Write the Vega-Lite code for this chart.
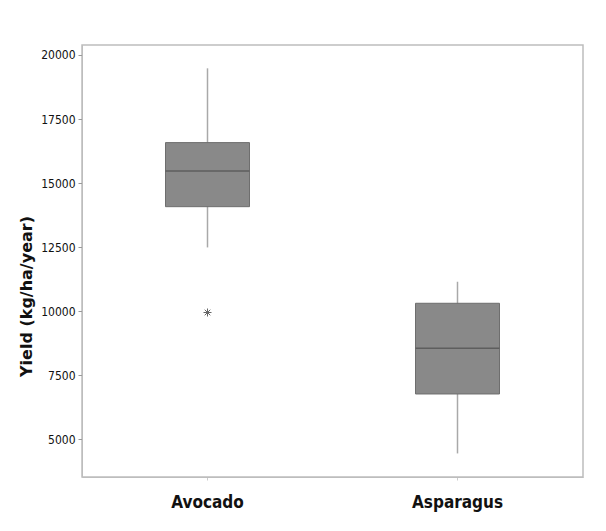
{
  "$schema": "https://vega.github.io/schema/vega-lite/v6.json",
  "width": 501,
  "height": 432,
  "autosize": {"type": "none"},
  "padding": {"left": 82, "top": 45, "right": 23, "bottom": 54},
  "background": "white",
  "config": {
    "view": {"stroke": "#bdbdbd", "strokeWidth": 1.5},
    "axis": {"grid": false}
  },
  "datasets": {
    "box": [
      {"crop": "Avocado", "lo": 12490, "q1": 14080, "med": 15470, "q3": 16580, "hi": 19480},
      {"crop": "Asparagus", "lo": 4450, "q1": 6770, "med": 8550, "q3": 10310, "hi": 11150}
    ],
    "outliers": [
      {"crop": "Avocado", "yield": 9950}
    ]
  },
  "encoding": {
    "x": {
      "field": "crop",
      "type": "nominal",
      "sort": ["Avocado", "Asparagus"],
      "scale": {"paddingInner": 0.664, "paddingOuter": 0.334},
      "axis": {
        "title": null,
        "labelAngle": 0,
        "labelFont": "Liberation Sans Narrow, DejaVu Sans Condensed, Roboto Condensed, Roboto, sans-serif",
        "labelFontWeight": "bold",
        "labelFontSize": 17,
        "labelColor": "#111111",
        "labelPadding": 14,
        "tickColor": "#cccccc",
        "tickSize": 3,
        "domainColor": "#bdbdbd"
      }
    }
  },
  "layer": [
    {
      "data": {"name": "box"},
      "mark": {"type": "rule", "color": "#a9a9a9", "strokeWidth": 1.5},
      "encoding": {
        "y": {
          "field": "lo",
          "type": "quantitative",
          "scale": {"domain": [3530, 20390], "nice": false, "zero": false},
          "axis": {
            "title": "Yield (kg/ha/year)",
            "values": [5000, 7500, 10000, 12500, 15000, 17500, 20000],
            "format": "d",
            "labelFont": "Liberation Sans Narrow, DejaVu Sans Condensed, Roboto Condensed, Roboto, sans-serif",
            "labelFontSize": 12,
            "labelColor": "#111111",
            "labelPadding": 3,
            "tickColor": "#999999",
            "tickSize": 4,
            "domainColor": "#bdbdbd",
            "titleFont": "DejaVu Sans",
            "titleFontWeight": "bold",
            "titleFontSize": 16,
            "titleColor": "#111111",
            "titleAngle": 270,
            "titleAlign": "center",
            "titleBaseline": "middle",
            "titleX": -56,
            "titleY": 251
          }
        },
        "y2": {"field": "hi"}
      }
    },
    {
      "data": {"name": "box"},
      "mark": {"type": "bar", "fill": "#898989", "stroke": "#6e6e6e", "strokeWidth": 1},
      "encoding": {
        "y": {"field": "q1", "type": "quantitative"},
        "y2": {"field": "q3"}
      }
    },
    {
      "data": {"name": "box"},
      "mark": {"type": "tick", "orient": "horizontal", "color": "#5e5e5e", "size": 84, "thickness": 1.5, "opacity": 1},
      "encoding": {
        "y": {"field": "med", "type": "quantitative"}
      }
    },
    {
      "data": {"name": "outliers"},
      "mark": {
        "type": "point",
        "shape": "M-1,0L1,0M0,-1L0,1M-0.7,-0.7L0.7,0.7M-0.7,0.7L0.7,-0.7",
        "size": 64,
        "filled": false,
        "stroke": "#666666",
        "strokeWidth": 1,
        "opacity": 1
      },
      "encoding": {
        "y": {"field": "yield", "type": "quantitative"}
      }
    }
  ]
}
